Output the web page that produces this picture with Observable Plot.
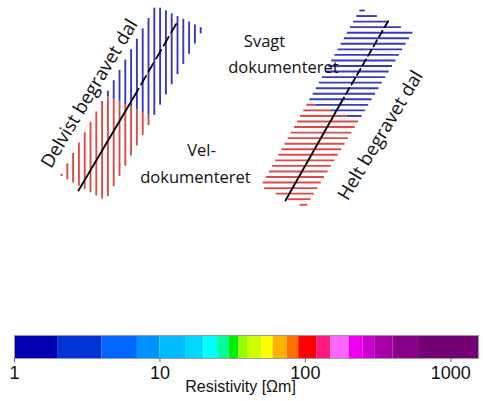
<!DOCTYPE html>
<html>
<head>
<meta charset="utf-8">
<script src="https://cdn.jsdelivr.net/npm/d3@7"></script>
<script src="https://cdn.jsdelivr.net/npm/@observablehq/plot@0.6"></script>
<style>
  html, body { margin: 0; padding: 0; background: #fff; }
  #wrap { position: relative; width: 483px; height: 401px; overflow: hidden; }
  #map { position: absolute; left: 0; top: 0; }
  #bar { position: absolute; left: 0; top: 330px; }
</style>
</head>
<body>
<div id="wrap"><div id="map"></div><div id="bar"></div></div>
<script>
// ---- Valley outlines (map units, y grows southward) ----
const leftValley  = [[60,175],[155,5],[203,28],[105,200]];
const rightValley = [[260,186],[360,8],[412,32],[305,207]];
// boundary between well documented (red, south) and weakly documented (blue, north)
const leftSplit  = [[108,96],[150,115]];
const rightSplit = [[308,102],[362,121]];
// valley axes
const leftAxisSolid   = [[78,190],[133,97]];
const leftAxisDashed  = [[133,97],[176,23]];
const rightAxisSolid  = [[285,200],[340,103]];
const rightAxisDashed = [[340,103],[388,20]];
// labels
const valleyLabels = ["Delvist begravet dal", "Helt begravet dal"];
const docLabels = ["Svagt", "dokumenteret", "Vel-", "dokumenteret"];

// ---- Colour bar ----
const resBreaks = [1,2,4,7,10,15,20,25,30,35,40,50,60,75,90,120,150,200,250,300,400,600,1550];
const resColors = ["#0000b0","#0033d6","#0066ff","#0092ff","#00bcff","#00d8ff","#00ffff","#00ff99",
  "#00ee00","#99ff00","#ccff00","#ffff00","#ffb300","#ff7000","#ff0000","#ff1a80","#ff66ff",
  "#ee00ee","#cc00cc","#a800a8","#880088","#720072"];
const resTicks = [1,10,100,1000];

const RED = "#dc4a4a", BLUE = "#3838c6";

// clip helpers for convex polygon
function clipVertical(poly, c) {
  const ys = [];
  for (let i = 0; i < poly.length; i++) {
    const [x1,y1] = poly[i], [x2,y2] = poly[(i+1)%poly.length];
    if ((c - x1) * (c - x2) <= 0 && x1 !== x2) ys.push(y1 + (c - x1) / (x2 - x1) * (y2 - y1));
  }
  return ys.length >= 2 ? [Math.min(...ys), Math.max(...ys)] : null;
}
function clipHorizontal(poly, c) {
  const xs = [];
  for (let i = 0; i < poly.length; i++) {
    const [x1,y1] = poly[i], [x2,y2] = poly[(i+1)%poly.length];
    if ((c - y1) * (c - y2) <= 0 && y1 !== y2) xs.push(x1 + (c - y1) / (y2 - y1) * (x2 - x1));
  }
  return xs.length >= 2 ? [Math.min(...xs), Math.max(...xs)] : null;
}
const segs = [];
// left valley: vertical hatch
for (let x = 61; x <= 201; x += 5.8) {
  const r = clipVertical(leftValley, x); if (!r) continue;
  const [[ax,ay],[bx,by]] = leftSplit;
  const yb = ay + (x - ax) / (bx - ax) * (by - ay);
  if (yb > r[0]) segs.push({x1:x, y1:r[0], x2:x, y2:Math.min(r[1], yb), c:BLUE});
  if (yb < r[1]) segs.push({x1:x, y1:Math.max(r[0], yb), x2:x, y2:r[1], c:RED});
}
// right valley: horizontal hatch
for (let y = 10; y <= 206; y += 5.55) {
  const r = clipHorizontal(rightValley, y); if (!r) continue;
  const [[ax,ay],[bx,by]] = rightSplit;
  const xb = ax + (y - ay) / (by - ay) * (bx - ax);
  if (xb > r[0]) segs.push({x1:r[0], y1:y, x2:Math.min(r[1], xb), y2:y, c:RED});
  if (xb < r[1]) segs.push({x1:Math.max(r[0], xb), y1:y, x2:r[1], y2:y, c:BLUE});
}

const font = "'Open Sans', Lato, sans-serif";
const map = Plot.plot({
  width: 483, height: 330, margin: 0,
  x: {domain: [0, 483], range: [0, 483], axis: null},
  y: {domain: [0, 330], range: [0, 330], axis: null},
  color: {type: "identity"},
  style: {fontFamily: font, background: "transparent"},
  marks: [
    Plot.link(segs, {x1:"x1", y1:"y1", x2:"x2", y2:"y2", stroke:"c", strokeWidth: 1.9}),
    Plot.line(leftAxisSolid, {x: d => d[0], y: d => d[1], stroke: "#000", strokeWidth: 1.8}),
    Plot.line(leftAxisDashed, {x: d => d[0], y: d => d[1], stroke: "#000", strokeWidth: 1.8, strokeDasharray: "10,5"}),
    Plot.line(rightAxisSolid, {x: d => d[0], y: d => d[1], stroke: "#000", strokeWidth: 1.8}),
    Plot.line(rightAxisDashed, {x: d => d[0], y: d => d[1], stroke: "#000", strokeWidth: 1.8, strokeDasharray: "7,4"}),
    Plot.text([valleyLabels[0]], {x: [89], y: [93], rotate: -59, fontSize: 18.5, fill: "#111"}),
    Plot.text([valleyLabels[1]], {x: [380], y: [135], rotate: -59, fontSize: 18.5, fill: "#111"}),
    Plot.text(docLabels, {x: [264, 283, 201, 195], y: [41, 67, 150, 177], fontSize: 16.5, fill: "#111"})
  ]
});
document.getElementById("map").appendChild(map);

const bins = resColors.map((c, i) => ({lo: resBreaks[i], hi: resBreaks[i+1], c}));
const bar = Plot.plot({
  width: 483, height: 71,
  marginLeft: 14, marginRight: 5, marginTop: 5, marginBottom: 43,
  x: {type: "log", domain: [1, 1550], axis: null},
  color: {type: "identity"},
  style: {fontFamily: "'Liberation Sans', Arial, sans-serif", background: "transparent"},
  marks: [
    Plot.rect(bins, {x1: "lo", x2: "hi", fill: "c"}),
    Plot.frame({stroke: "#9a9aa8", strokeWidth: 1}),
    Plot.axisX({ticks: resTicks, tickFormat: d => String(d), tickSize: 4, tickPadding: 4, fontSize: 18, stroke: "#666", fill: "#111"}),
    Plot.text(["Resistivity [Ωm]"], {frameAnchor: "bottom", dx: -6, dy: 33, fontSize: 16, fill: "#111"})
  ]
});
document.getElementById("bar").appendChild(bar);
</script>
</body>
</html>
